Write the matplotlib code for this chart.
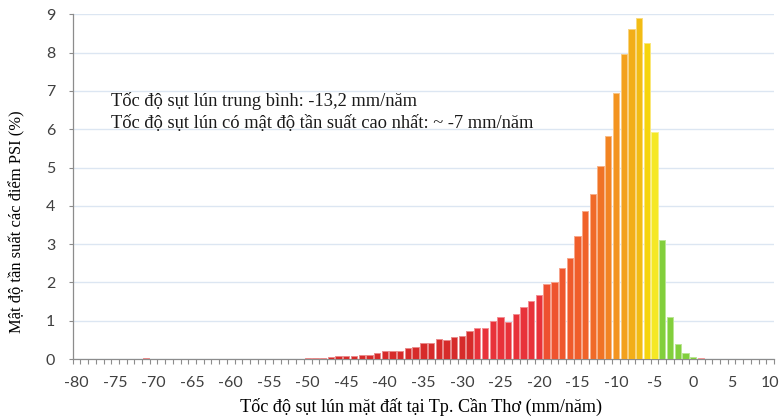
import numpy as np
import matplotlib
matplotlib.use('Agg')
import matplotlib.pyplot as plt
from matplotlib.colors import LinearSegmentedColormap, to_rgb

# subsidence rate bins (mm/year) and share of PSI points (%)
rates = list(range(-80, 11))
density = [0, 0, 0, 0, 0, 0, 0, 0, 0, 0.03,          # -80 .. -71
           0, 0, 0, 0, 0, 0, 0, 0, 0, 0,              # -70 .. -61
           0, 0, 0, 0, 0, 0, 0, 0, 0, 0,              # -60 .. -51
           0.03, 0.03, 0.03, 0.05, 0.07, 0.07, 0.09, 0.11, 0.11, 0.17,   # -50 .. -41
           0.20, 0.20, 0.20, 0.28, 0.31, 0.41, 0.41, 0.52, 0.50, 0.57,   # -40 .. -31
           0.61, 0.72, 0.82, 0.82, 0.98, 1.09, 0.97, 1.17, 1.37, 1.52,   # -30 .. -21
           1.66, 1.97, 2.02, 2.37, 2.65, 3.20, 3.86, 4.32, 5.04, 5.83,   # -20 .. -11
           6.95, 7.97, 8.61, 8.90, 8.24, 5.92, 3.10, 1.10, 0.38, 0.16,   # -10 .. -1
           0.05, 0.03, 0, 0, 0, 0, 0, 0, 0, 0, 0]                         # 0 .. 10

xtick_vals = list(range(-80, 11, 5))
ytick_vals = list(range(0, 10))

note = ("Tốc độ sụt lún trung bình: -13,2 mm/năm\n"
        "Tốc độ sụt lún có mật độ tần suất cao nhất: ~ -7 mm/năm")
xlab = "Tốc độ sụt lún mặt đất tại Tp. Cần Thơ (mm/năm)"
ylab = "Mật độ tần suất các điểm PSI (%)"

# colour ramp from red (fast) to yellow, green near zero
ramp = LinearSegmentedColormap.from_list('ramp', [
    (0.0, '#ee5030'), (5 / 14, '#f0622a'), (7 / 14, '#f07325'),
    (9 / 14, '#f39420'), (12 / 14, '#f2bb14'), (13 / 14, '#f6d40c'),
    (1.0, '#f5e825')])


def bar_color(k):
    if k <= -29:
        return '#d62b2a'
    if k <= -20:
        return '#e8323a'
    if k <= -5:
        return ramp((k + 19) / 14)
    if k <= 0:
        return '#82cf3c'
    return '#e64545'


def lighter(c, f=0.45):
    r, g, b = to_rgb(c)
    return (r + (1 - r) * f, g + (1 - g) * f, b + (1 - b) * f)


serif = ['Liberation Serif', 'DejaVu Serif']
sans = ['Lato', 'DejaVu Sans']

fig = plt.figure(figsize=(7.79, 4.18), dpi=100)
ax = fig.add_axes([0.0933, 0.1411, 0.9003, 0.8247])

cols = [bar_color(k) for k in rates]
edges = [lighter(c) for c in cols]
ax.bar(rates, density, width=0.82, color=cols, edgecolor=edges,
       linewidth=0.7, zorder=3)

ax.set_xlim(-80.5, 10.5)
ax.set_ylim(0, 9)

ax.set_yticks(ytick_vals)
ax.yaxis.grid(True, color='#dce6f2', linewidth=1.0, zorder=0)
ax.tick_params(axis='y', length=3, width=0.8, color='#8c8c8c', pad=9.5,
               labelsize=11.5, labelcolor='#404040')

ax.set_xticks(xtick_vals)
ax.set_xticklabels([str(v) for v in xtick_vals])
ax.set_xticks(np.arange(-80.5, 11, 1), minor=True)
ax.tick_params(axis='x', which='major', length=0, pad=12,
               labelsize=11.5, labelcolor='#404040')
ax.tick_params(axis='x', which='minor', length=3.6, width=0.8, color='#8c8c8c')
for lab in ax.get_xticklabels() + ax.get_yticklabels():
    lab.set_family(sans)

for s in ['top', 'right']:
    ax.spines[s].set_visible(False)
for s in ['left', 'bottom']:
    ax.spines[s].set_color('#8c8c8c')
    ax.spines[s].set_linewidth(0.9)

ax.text(0.0546, 0.775, note, transform=ax.transAxes, family=serif,
        fontsize=13.3, color='#1a1a1a', va='top', linespacing=1.38)

fig.text(0.540, 0.026, xlab, family=serif, fontsize=13.1, ha='center', va='center')
fig.text(0.022, 0.469, ylab, family=serif, fontsize=11.9, rotation=90,
         ha='center', va='center')

plt.savefig('out.png', dpi=100)
